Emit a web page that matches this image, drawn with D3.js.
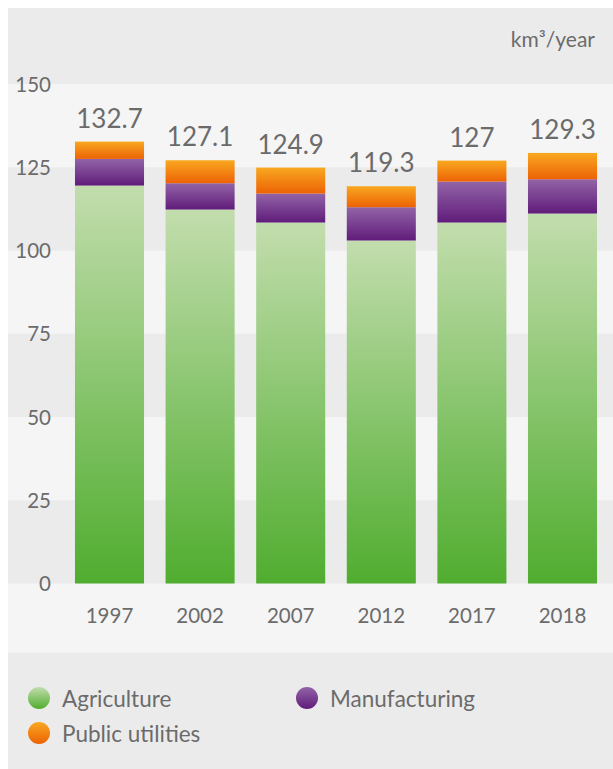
<!DOCTYPE html>
<html><head><meta charset="utf-8">
<script src="https://cdn.jsdelivr.net/npm/d3@7"></script>
<style>html,body{margin:0;padding:0;background:#fff;}svg{display:block;font-family:Lato,"Open Sans",sans-serif;}</style>
</head><body>
<svg id="chart" width="613" height="769"></svg>
<script>
const years = ["1997","2002","2007","2012","2017","2018"];
const agriculture = [119.5, 112.3, 108.4, 103.0, 108.4, 111.1];
const manufacturing = [8.0, 7.9, 8.7, 10.0, 12.3, 10.3];
const publicUtilities = [5.2, 6.9, 7.8, 6.3, 6.3, 7.9];
const totals = ["132.7","127.1","124.9","119.3","127","129.3"];
const seriesNames = ["Agriculture","Manufacturing","Public utilities"];
const yTicks = [0,25,50,75,100,125,150];
const unitLabel = "km³/year";

const svg = d3.select("#chart");
const W = 613, H = 769;
const panelX = 8, panelY = 8;
const light = "#f5f5f5", dark = "#ebebeb", textCol = "#6b6b6b";
const font = "Lato,'Open Sans',sans-serif";

const x = d3.scaleBand().domain(years).range([64.2, 607.8]).paddingInner(0.238).paddingOuter(0.119);
const y = d3.scaleLinear().domain([0,150]).range([583.5, 84]);

const grads = [
  {id:"gAg", c:["#c2ddad","#50ad2f"]},
  {id:"gMf", c:["#9264a7","#601c7a"]},
  {id:"gPu", c:["#f9a820","#ec6205"]}
];
const defs = svg.append("defs");
grads.forEach(g=>{
  const lg = defs.append("linearGradient").attr("id",g.id).attr("x1",0).attr("y1",0).attr("x2",0).attr("y2",1);
  lg.append("stop").attr("offset","0%").attr("stop-color",g.c[0]);
  lg.append("stop").attr("offset","100%").attr("stop-color",g.c[1]);
});

// panel background
svg.append("rect").attr("x",panelX).attr("y",panelY).attr("width",W-panelX).attr("height",H-panelY).attr("fill",dark);
// bands: 0-25 dark, 25-50 light, ..., 125-150 light
for (let i=0;i<yTicks.length-1;i++){
  const lo = yTicks[i], hi = yTicks[i+1];
  svg.append("rect").attr("x",panelX).attr("y",y(hi)).attr("width",W-panelX).attr("height",y(lo)-y(hi))
    .attr("fill", (i%2===0)? dark : light);
}
// below zero light region
svg.append("rect").attr("x",panelX).attr("y",y(0)).attr("width",W-panelX).attr("height",652.5-y(0)).attr("fill",light);

// stacked data
const table = years.map((yr,i)=>({year:yr, Agriculture:agriculture[i], Manufacturing:manufacturing[i], "Public utilities":publicUtilities[i]}));
const stack = d3.stack().keys(seriesNames)(table);
const fills = {"Agriculture":"url(#gAg)","Manufacturing":"url(#gMf)","Public utilities":"url(#gPu)"};

svg.append("g").selectAll("g").data(stack).join("g")
  .attr("fill", d=>fills[d.key])
  .selectAll("rect").data(d=>d).join("rect")
  .attr("x", d=>x(d.data.year))
  .attr("width", x.bandwidth())
  .attr("y", d=>y(d[1]))
  .attr("height", d=>y(d[0])-y(d[1]));

// total labels
svg.append("g").selectAll("text").data(table).join("text")
  .attr("x", d=>x(d.year)+x.bandwidth()/2)
  .attr("y", (d,i)=>y(agriculture[i]+manufacturing[i]+publicUtilities[i]) - 14)
  .attr("text-anchor","middle")
  .attr("font-size",26).attr("fill",textCol)
  .text((d,i)=>totals[i]);

// y axis
const yAxis = d3.axisLeft(y).tickValues(yTicks).tickSize(0).tickPadding(0);
const ya = svg.append("g").attr("transform","translate(51,0)").call(yAxis);
ya.select(".domain").remove();
ya.selectAll("text").attr("font-size",20.5).attr("fill",textCol).attr("font-family",font).attr("dy","0.35em");

// x axis
const xAxis = d3.axisBottom(x).tickSize(0).tickPadding(0);
const xa = svg.append("g").attr("transform","translate(0,608)").call(xAxis);
xa.select(".domain").remove();
xa.selectAll("text").attr("font-size",20.5).attr("fill",textCol).attr("font-family",font).attr("dy","0.71em");

// unit label
svg.append("text").attr("x",595).attr("y",47).attr("text-anchor","end").attr("font-size",21).attr("fill",textCol).text(unitLabel);

// legend
const legendPos = [[39,698],[307,698],[39,733]];
const lg = svg.append("g").selectAll("g").data(seriesNames).join("g")
  .attr("transform",(d,i)=>`translate(${legendPos[i][0]},${legendPos[i][1]})`);
lg.append("circle").attr("r",11).attr("fill",d=>fills[d]);
lg.append("text").attr("x",23).attr("y",1).attr("dy","0.35em").attr("font-size",22.5).attr("fill",textCol).text(d=>d);
</script>
</body></html>
